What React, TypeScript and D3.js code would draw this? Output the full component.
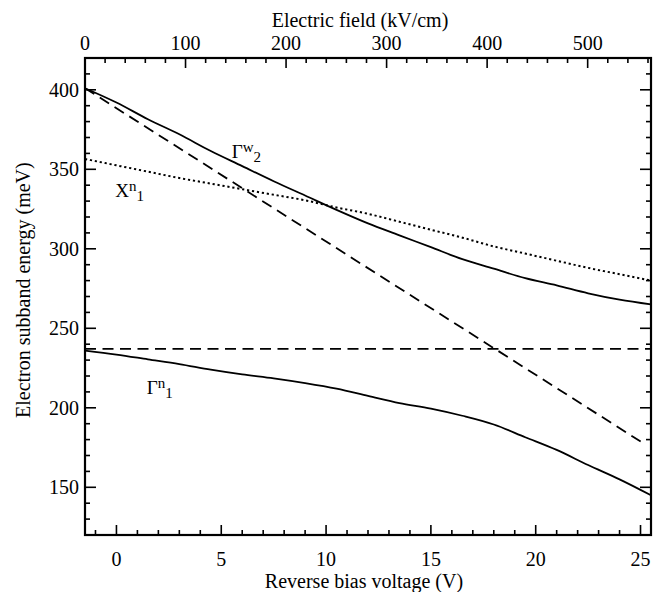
import * as d3 from "d3";

// reverse bias voltage (V) sample points for the computed subbands
const voltage = [-1.5, 0, 1.5, 3, 4.5, 6, 7.5, 9, 10.5, 12, 13.5, 15, 16.5, 18, 19.5, 21, 22.5, 24, 25.5];

// subband energies (meV)
const gammaW2 = [401, 392, 381.5, 372, 361.5, 352, 342.5, 333.5, 324.5, 316, 308.5, 301, 293.5, 287.5, 281.5, 277, 272, 268, 265];
const xN1 = [356.5, 352.5, 348.5, 344.5, 341, 337.5, 334, 330.5, 326, 322, 317, 312, 307, 301.5, 297, 292.5, 288, 284, 280];
const gammaN1 = [236, 233.5, 230.5, 227.5, 224, 221, 218.5, 215.5, 212, 207.5, 203, 199.5, 195, 189.5, 181.5, 173.5, 164, 155, 145];

// straight dashed guides
const diagV = [-1.5, 25.1];
const diagE = [401, 178];
const flatV = [-1.5, 25.5];
const flatE = [237, 237];

const bottomTicks = [0, 5, 10, 15, 20, 25];
const topTicks = [0, 100, 200, 300, 400, 500];
const leftTicks = [150, 200, 250, 300, 350, 400];

const W = 657;
const H = 592;
const m = { left: 85, right: 651, top: 58, bottom: 535 };

const x = d3.scaleLinear().domain([-1.5, 25.5]).range([m.left, m.right]);
const xTop = d3.scaleLinear().domain([0, 563]).range([m.left, m.right]);
const y = d3.scaleLinear().domain([120, 420]).range([m.bottom, m.top]);

const FONT =
  '"Liberation Serif", "Times New Roman", Times, "Nimbus Roman", "Noto Serif", "DejaVu Serif", FreeSerif, serif';

const line = d3
  .line<[number, number]>()
  .x((d) => x(d[0]))
  .y((d) => y(d[1]))
  .curve(d3.curveMonotoneX);

const pts = (vs: number[], es: number[]) => vs.map((v, i) => [v, es[i]] as [number, number]);

export default function App() {
  const minorBottom = d3.range(-1, 26, 1);
  const minorTop = d3.range(0, 563, 20);
  const minorLeft = d3.range(130, 421, 10);

  return (
    <svg
      width={W}
      height={H}
      fontFamily={FONT}
      style={{ position: "absolute", left: 0, top: 0, background: "#fff", fontFamily: FONT }}
    >
      {/* curves */}
      <g fill="none" stroke="#000">
        <path d={line(pts(voltage, gammaW2)) || ""} strokeWidth={1.8} />
        <path d={line(pts(voltage, gammaN1)) || ""} strokeWidth={1.8} />
        <path d={line(pts(voltage, xN1)) || ""} strokeWidth={2} strokeDasharray="2.2,2.8" />
        <path d={line(pts(diagV, diagE)) || ""} strokeWidth={1.8} strokeDasharray="11,6.5" />
        <path d={line(pts(flatV, flatE)) || ""} strokeWidth={1.8} strokeDasharray="11,6.5" />
      </g>

      {/* ticks */}
      <g stroke="#000" strokeWidth={1.6}>
        {minorBottom.map((v) => {
          const len = v % 5 === 0 ? 10 : 5;
          return <line key={"b" + v} x1={x(v)} x2={x(v)} y1={m.bottom} y2={m.bottom - len} />;
        })}
        {minorTop.map((v) => {
          const len = v % 100 === 0 ? 10 : 5;
          return <line key={"t" + v} x1={xTop(v)} x2={xTop(v)} y1={m.top} y2={m.top + len} />;
        })}
        {minorLeft.map((v) => {
          const len = v % 50 === 0 ? 11 : 5;
          return (
            <g key={"l" + v}>
              <line x1={m.left} x2={m.left + len} y1={y(v)} y2={y(v)} />
              <line x1={m.right} x2={m.right - len} y1={y(v)} y2={y(v)} />
            </g>
          );
        })}
      </g>

      {/* frame */}
      <rect
        x={m.left}
        y={m.top}
        width={m.right - m.left}
        height={m.bottom - m.top}
        fill="none"
        stroke="#000"
        strokeWidth={2.2}
      />

      {/* tick labels */}
      <g fontSize={20} fill="#000">
        {bottomTicks.map((v) => (
          <text key={"bl" + v} x={x(v)} y={566} textAnchor="middle">
            {v}
          </text>
        ))}
        {topTicks.map((v) => (
          <text key={"tl" + v} x={xTop(v)} y={50} textAnchor="middle">
            {v}
          </text>
        ))}
        {leftTicks.map((v) => (
          <text key={"ll" + v} x={79} y={y(v) + 7} textAnchor="end">
            {v}
          </text>
        ))}
      </g>

      {/* axis titles */}
      <g fontSize={20} fill="#000" textAnchor="middle">
        <text x={364} y={588}>Reverse bias voltage (V)</text>
        <text x={360} y={27}>Electric field (kV/cm)</text>
        <text transform={`translate(30,${y(274)}) rotate(-90)`}>Electron subband energy (meV)</text>
      </g>

      {/* curve labels */}
      <g fill="#000">
        <text x={x(5.5)} y={y(357)} fontSize={19}>
          Γ<tspan fontSize={15} dy={-6}>w</tspan>
          <tspan fontSize={15} dy={10}>2</tspan>
        </text>
        <text x={x(-0.06)} y={y(332.5)} fontSize={19}>
          X<tspan fontSize={15} dy={-6}>n</tspan>
          <tspan fontSize={15} dy={10}>1</tspan>
        </text>
        <text x={x(1.45)} y={y(208.5)} fontSize={19}>
          Γ<tspan fontSize={15} dy={-6}>n</tspan>
          <tspan fontSize={15} dy={10}>1</tspan>
        </text>
      </g>
    </svg>
  );
}
